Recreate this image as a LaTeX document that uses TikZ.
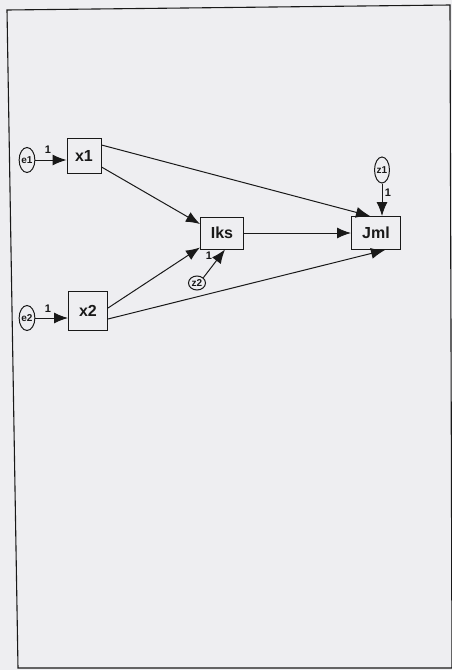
\documentclass[tikz,border=0pt]{standalone}
\usepackage{fontspec}
\setmainfont{Liberation Sans}
\usetikzlibrary{arrows.meta,shapes.geometric}
\definecolor{paper}{RGB}{238,238,241}
\definecolor{ink}{RGB}{25,25,25}
\tikzset{
  var/.style={draw=ink,line width=1pt,rectangle,inner sep=0pt,
    font=\fontsize{16}{16}\selectfont\bfseries,text=ink},
  err/.style={draw=ink,line width=1pt,ellipse,inner sep=0pt,
    font=\fontsize{10}{10}\selectfont\bfseries,text=ink},
  path/.style={draw=ink,line width=1pt,-{Latex[length=14pt,width=11pt]}},
  wt/.style={font=\fontsize{11}{11}\selectfont\bfseries,text=ink,inner sep=0pt}
}
\begin{document}
\begin{tikzpicture}[x=1pt,y=-1pt]
  % page and frame
  \fill[paper] (0,0) rectangle (452,670);
  \useasboundingbox (0,0) rectangle (452,670);
  \draw[ink,line width=1.1pt] (7,10) -- (450,5) -- (452,668) -- (18,668) -- cycle;

  % observed and latent variables
  \node[var,minimum width=34,minimum height=35] (x1) at (84,156) {x1};
  \node[var,minimum width=39,minimum height=39] (x2) at (88,311) {x2};
  \node[var,minimum width=43,minimum height=32] (iks) at (222,233) {Iks};
  \node[var,minimum width=49,minimum height=33] (jml) at (376,233) {Jml};

  % error terms
  \node[err,minimum width=13,minimum height=25] (e1) at (27,160) {e1};
  \node[err,minimum width=13,minimum height=25] (e2) at (27,318) {e2};
  \node[err,minimum width=17,minimum height=14] (z2) at (197,283) {z2};
  \node[err,minimum width=10,minimum height=26] (z1) at (382,170) {z1};

  % error paths
  \draw[path] (e1.east) -- (e1.east -| x1.west);
  \draw[path] (e2.east) -- (e2.east -| x2.west);
  \draw[path] (z2.north east) -- ([xshift=3pt]iks.south);
  \draw[path] (z1.south) -- (z1.south |- jml.north);

  % regression weights fixed to 1
  \node[wt] (w1) at (48,150) {1};
  \node[wt] (w2) at (48,309) {1};
  \node[wt] (w3) at (209,256) {1};
  \node[wt] (w4) at (388,193) {1};

  % structural paths
  \draw[path] ([yshift=11pt]x1.east) -- ([xshift=-6pt]jml.north);
  \draw[path] ([yshift=-11pt]x1.east) -- ([yshift=9pt]iks.west);
  \draw[path] ([yshift=3pt]x2.east) -- ([yshift=2pt]iks.south west);
  \draw[path] ([yshift=-8pt]x2.east) -- ([xshift=9pt]jml.south);
  \draw[path] (iks.east) -- (jml.west);
\end{tikzpicture}
\end{document}
